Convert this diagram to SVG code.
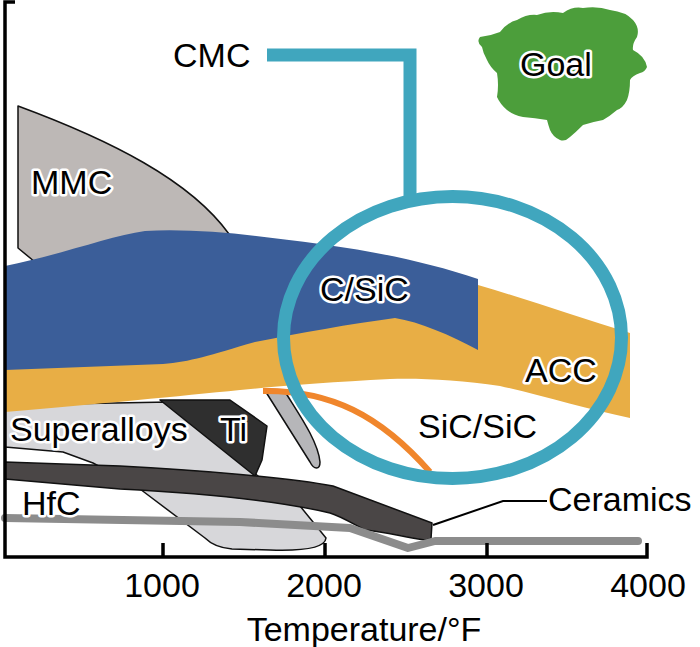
<svg xmlns="http://www.w3.org/2000/svg" width="700" height="647" viewBox="0 0 700 647">
<style>
text{font-family:"Liberation Sans",Arial,sans-serif;font-size:34px;fill:#000}
.halo{stroke:#fff;stroke-width:5;stroke-linejoin:round;paint-order:stroke}
.ol{stroke:#111;stroke-width:1.5;stroke-linejoin:round}
.axis{stroke:#000;stroke-width:3.5;fill:none}
.mid{text-anchor:middle}
</style>
<rect width="700" height="647" fill="#fff"/>
<g id="superalloys">
<path class="ol" fill="#D7D7DA" d="M5,405 L170,402 L258,476 L300,506 L326,538 C325,549 300,551 270,550 L232,549 C220,548 212,545 205,538 L140,489 L93,463 L63,452 L5,447 Z"/>
</g>
<g id="ti">
<path class="ol" fill="#2F2F2F" d="M160,400 L230,400 L267,426 L262,460 L255,476 Z"/>
</g>
<g id="lens">
<path class="ol" fill="#B6B6B9" d="M264,389 L284,390 C296,410 318,440 320,462 C320,470 314,470 310,462 L264,389 Z"/>
</g>
<g id="ceramics">
<path class="ol" fill="#4A4646" d="M5,462 L120,466 C200,470 290,478 333,486 L432,523 L431,539 L425,540 C400,536 385,532 365,530 C350,522 340,516 330,513 C280,501 200,493 120,489 L5,479 Z"/>
</g>
<g id="hfc">
<path d="M5,518 L240,522 L350,528 L408,548 L435,541 L638,541" fill="none" stroke="#8C8C8C" stroke-width="8" stroke-linecap="round" stroke-linejoin="round"/>
</g>
<g id="mmc">
<path class="ol" fill="#BDB8B6" d="M18,106 C110,140 190,180 229,234 L229,250 L35,262 L18,248 Z"/>
</g>
<g id="acc">
<path fill="#E8AE45" d="M5,360 L478,300 L478,285 C530,300 580,318 630,333 L630,418 C590,410 540,395 500,386 C460,380 420,378 390,379 C330,382 280,386 240,390 C180,396 100,404 5,412 Z"/>
</g>
<g id="csic">
<path fill="#3B5E99" d="M5,266 C60,255 110,236 145,231 C200,228 260,236 320,244 C380,252 430,263 478,279 L478,350 C450,335 420,322 395,318 C350,324 300,333 255,342 C210,355 190,362 163,364 L5,370 Z"/>
</g>
<g id="sicsic">
<path d="M263,391 C330,390 380,415 430,472" fill="none" stroke="#F0862C" stroke-width="6"/>
</g>
<g id="cmc">
<ellipse cx="452.5" cy="337.5" rx="169" ry="141" fill="none" stroke="#40A6BE" stroke-width="13"/>
</g>
<g id="goal">
<path fill="#4C9E3B" d="M480,37 Q490,36 500,32 Q508,22 517,20 Q527,14 537,15 Q550,10 563,13 Q573,6 583,8 Q598,6 610,10 Q626,12 633,20 Q640,28 637,37 Q632,44 633,50 Q645,56 647,67 Q645,72 640,73 Q632,76 630,80 Q630,92 627,100 Q623,108 617,110 Q610,116 603,120 Q592,122 583,125 Q576,132 570,137 Q565,142 560,140 Q553,137 550,130 Q548,124 547,120 Q535,118 523,117 Q513,115 507,110 Q500,104 497,97 Q499,85 497,73 Q490,67 487,60 Q483,53 482,47 Q476,42 480,37 Z"/>
</g>
<g id="connectors">
<path d="M267,55 L410,55 L410,197" fill="none" stroke="#40A6BE" stroke-width="13"/>
<path d="M433,525 L503,501 L547,501" fill="none" stroke="#000" stroke-width="2"/>
</g>
<g id="axes">
<path class="axis" d="M15,2 L5,2 L5,557 L647,557 L647,543"/>
<path class="axis" d="M163,557 V543 M325,557 V543 M487,557 V543"/>
</g>
<g id="labels">
<text x="173" y="67">CMC</text>
<text class="halo" x="31" y="194">MMC</text>
<text class="halo" x="520" y="76">Goal</text>
<text class="halo" x="320" y="301">C/SiC</text>
<text class="halo" x="525" y="382">ACC</text>
<text class="halo" x="418" y="438">SiC/SiC</text>
<text class="halo" x="10" y="441">Superalloys</text>
<text class="halo" x="220" y="441">Ti</text>
<text class="halo" x="22" y="515">HfC</text>
<text x="548" y="511">Ceramics</text>
<text class="mid" x="162" y="597">1000</text>
<text class="mid" x="324" y="597">2000</text>
<text class="mid" x="486" y="597">3000</text>
<text class="mid" x="648" y="597">4000</text>
<text class="mid" x="364" y="641">Temperature/°F</text>
</g>
</svg>
